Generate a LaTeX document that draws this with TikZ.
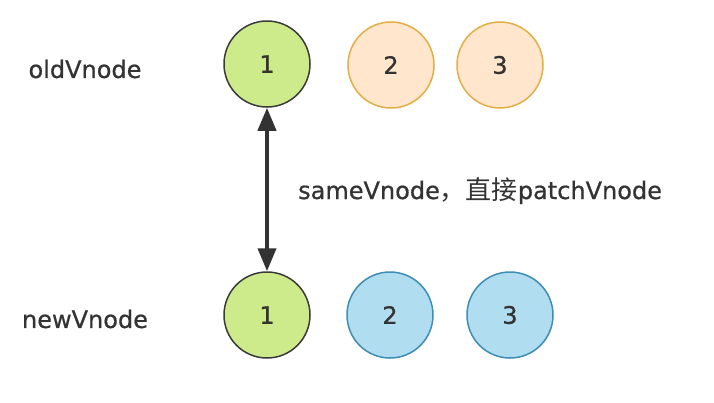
\documentclass[tikz,border=0pt]{standalone}
\usepackage{fontspec}
\usepackage{tikz}
\usetikzlibrary{arrows.meta}
\setmainfont{DejaVu Sans}[FakeBold=0.7]
\newfontfamily\cjk{Noto Sans CJK SC}
\definecolor{ink}{HTML}{333333}
\definecolor{greenfill}{HTML}{CDEB8B}
\definecolor{greenline}{HTML}{3A3A3A}
\definecolor{orangefill}{HTML}{FFE6CC}
\definecolor{orangeline}{HTML}{E3AE45}
\definecolor{bluefill}{HTML}{B1DDF0}
\definecolor{blueline}{HTML}{3D8DB5}
\begin{document}
\begin{tikzpicture}[x=1pt, y=-1pt, vnode/.style = {shape=circle, draw, line width=1.5pt, minimum size=86pt, inner sep=0pt, text=ink, font=\fontsize{24}{24}\selectfont}, same/.style = {vnode, fill=greenfill, draw=greenline}, old/.style = {vnode, fill=orangefill, draw=orangeline}, new/.style = {vnode, fill=bluefill, draw=blueline}, label/.style = {text=ink, font=\fontsize{24}{24}\selectfont}]
				\useasboundingbox (0,0) rectangle (714,402);
				\node[label] (oldlabel) at (85,69) {oldVnode};
				\node[label] (newlabel) at (85,319) {newVnode};
				\node[same] (old1) at (267,64) {1};
				\node[old] (old2) at (391,65) {2};
				\node[old] (old3) at (500,65) {3};
				\node[same] (new1) at (267,315) {1};
				\node[new] (new2) at (390,315) {2};
				\node[new] (new3) at (510,315) {3};
				\draw[ink, line width=4pt, {Triangle[width=18pt,length=23pt]}-{Triangle[width=18pt,length=23pt]}] (old1) -- (new1);
				\node[label, anchor=base west, inner sep=0pt] (hint) at (298,199) {sameVnode{\cjk\fontsize{26}{26}\selectfont ，直接}patchVnode};
			\end{tikzpicture}
\end{document}
